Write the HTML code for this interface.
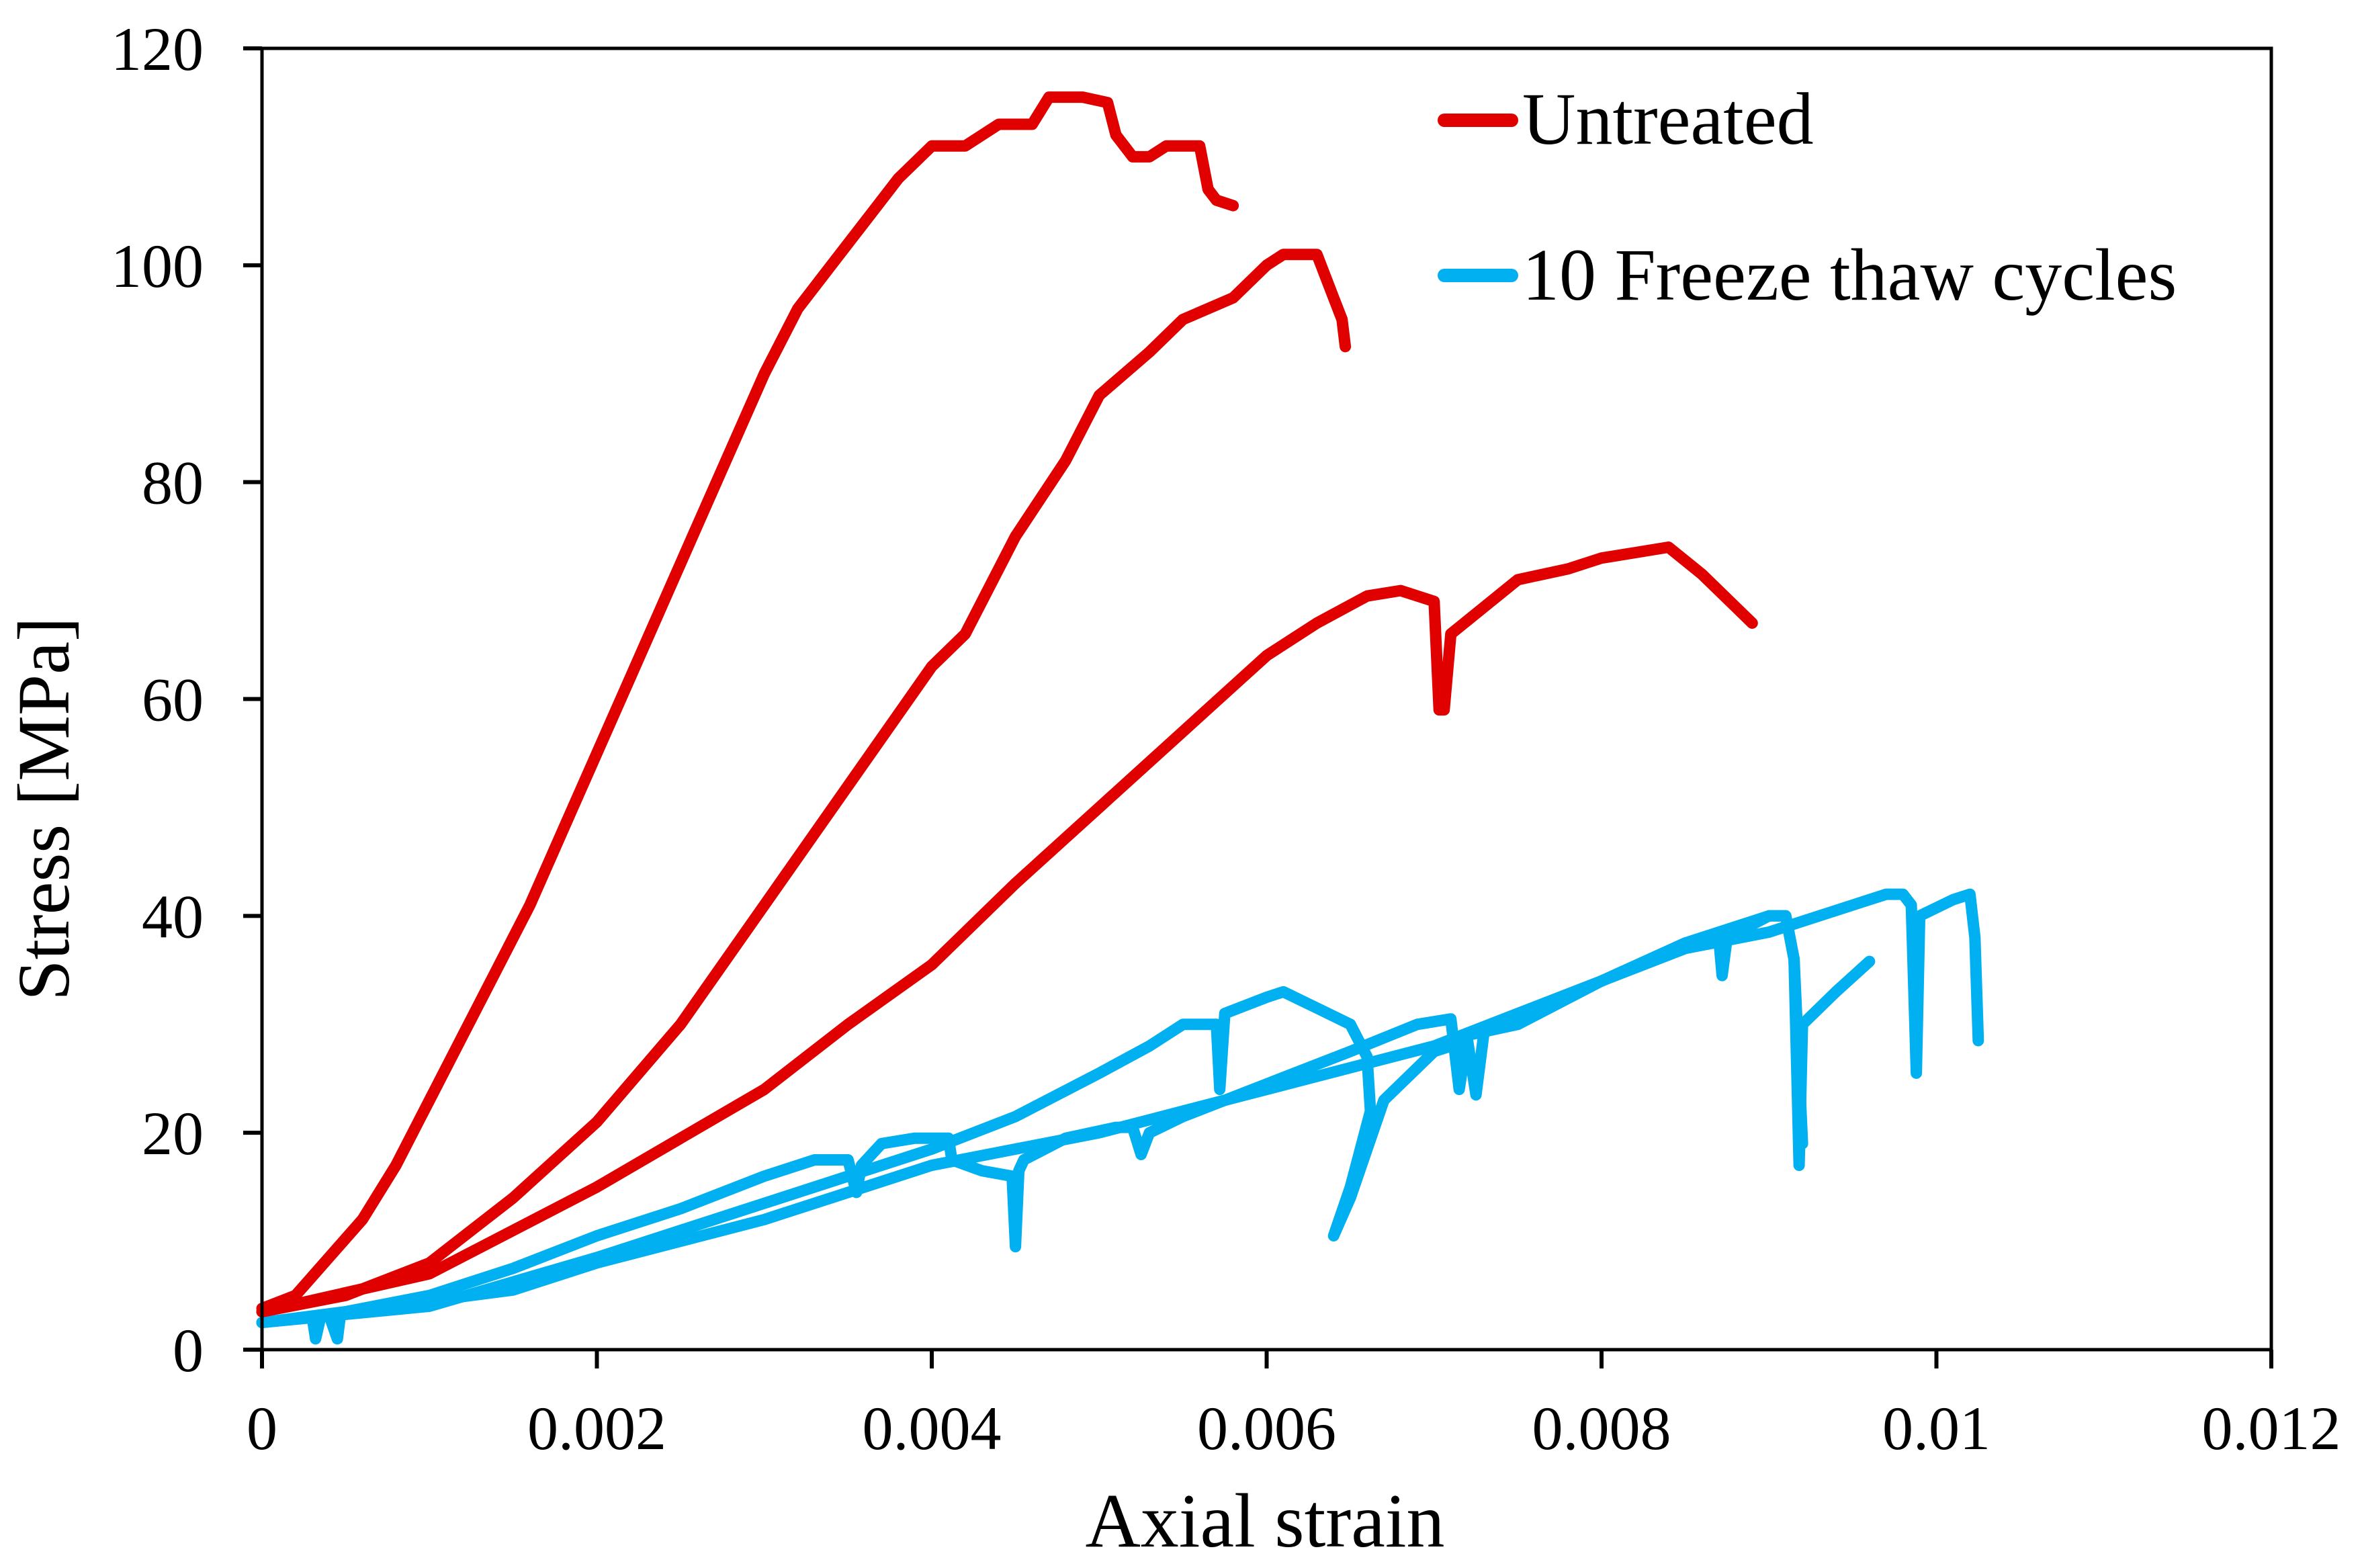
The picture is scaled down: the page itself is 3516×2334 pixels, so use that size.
<!DOCTYPE html>
<html><head><meta charset="utf-8">
<style>
html,body{margin:0;padding:0;background:#fff;}
svg{display:block;}
text{font-family:"Liberation Serif",serif;fill:#000;}
</style></head>
<body>
<svg id="chart" width="3516" height="2334" viewBox="0 0 3516 2334" xmlns="http://www.w3.org/2000/svg">
<rect x="0" y="0" width="3516" height="2334" fill="#fff"/>
<g id="series"></g>
<rect x="390" y="72" width="2991" height="1937" fill="none" stroke="#000" stroke-width="5"/>
<g id="axes"></g>
<text x="1883" y="2302" font-size="114" text-anchor="middle">Axial strain</text>
<text x="0" y="0" font-size="110" text-anchor="middle" transform="translate(102,1204) rotate(-90)">Stress [MPa]</text>
<g>
<line x1="2150" y1="179" x2="2250" y2="179" stroke="#e00000" stroke-width="20" stroke-linecap="round"/>
<text x="2266" y="214" font-size="110">Untreated</text>
<line x1="2150" y1="410" x2="2250" y2="410" stroke="#00b0f0" stroke-width="20" stroke-linecap="round"/>
<text x="2266" y="446" font-size="110">10 Freeze thaw cycles</text>
</g>
</svg>
<script>
const xTicks=[0,0.002,0.004,0.006,0.008,0.01,0.012];
const xTickLabels=["0","0.002","0.004","0.006","0.008","0.01","0.012"];
const yTicks=[0,20,40,60,80,100,120];
const yTickLabels=["0","20","40","60","80","100","120"];

const red1X=[0,0.0002,0.0004,0.0006,0.0008,0.001,0.0012,0.0014,0.0016,0.0018,0.002,0.0022,0.0024,0.0026,0.0028,0.003,0.0032,0.0034,0.0036,0.0038,0.004,0.0042,0.0044,0.0046,0.0047,0.0049,0.00505,0.0051,0.0052,0.0053,0.0054,0.0056,0.00565,0.0057,0.0058];
const red1Y=[3.8,5,8.5,12,17,23,29,35,41,48,55,62,69,76,83,90,96,100,104,108,111,111,113,113,115.5,115.5,115,112,110,110,111,111,107,106,105.5];
const red2X=[0,0.0005,0.001,0.0015,0.002,0.0025,0.003,0.0035,0.004,0.0042,0.0045,0.0048,0.005,0.0053,0.0055,0.0058,0.006,0.0061,0.0063,0.0064,0.00645,0.00647];
const red2Y=[3.5,5,8,14,21,30,41,52,63,66,75,82,88,92,95,97,100,101,101,97,95,92.5];
const red3X=[0,0.001,0.002,0.003,0.0035,0.004,0.0045,0.005,0.0055,0.006,0.0063,0.0066,0.0068,0.0070,0.00703,0.00706,0.0071,0.0075,0.0078,0.008,0.0082,0.0084,0.0086,0.0088,0.0089];
const red3Y=[3.5,7,15,24,30,35.5,43,50,57,64,67,69.5,70,69,59,59,66,71,72,73,73.5,74,71.5,68.5,67];

const blue1X=[0,0.0005,0.001,0.0015,0.002,0.0025,0.003,0.0033,0.0035,0.00355,0.00358,0.0037,0.0039,0.0041,0.00412,0.0043,0.00448,0.0045,0.00452,0.00455,0.0048,0.0051,0.0052,0.00525,0.0053,0.0055,0.006,0.0065,0.0069,0.0071,0.00715,0.0072,0.0075,0.008,0.0085,0.0087,0.00872,0.00875,0.009,0.0091,0.00915,0.00918,0.0092,0.0094,0.0096];
const blue1Y=[2.5,3.5,5,7.5,10.5,13,16,17.5,17.5,14.5,17,19,19.5,19.5,17.5,16.5,16,9.5,16.5,17.5,19.5,20.5,20.5,18,20,21.5,24.5,27.5,30,30.5,24,29,30,34,37.5,38,34.5,38,40,40,36,17,30,33,35.8];
const blue2X=[0,0.001,0.002,0.003,0.004,0.0045,0.005,0.0053,0.0055,0.0056,0.0057,0.00572,0.00575,0.006,0.0061,0.0063,0.0065,0.0066,0.00662,0.0065,0.0064,0.0065,0.0067,0.007,0.0072,0.00725,0.0073,0.0075,0.008,0.0085,0.0088,0.009,0.0091,0.00915,0.0092];
const blue2Y=[2.5,4,8.5,13.5,18.5,21.5,25.5,28,30,30,30,24,31,32.5,33,31.5,30,27,22,15,10.5,14,23,27.5,28.5,23.5,29.5,30.5,34,37.5,39,40,40,36,19];
const blue3X=[0,0.0003,0.00032,0.00035,0.0004,0.00045,0.00047,0.0005,0.001,0.0015,0.002,0.003,0.004,0.005,0.006,0.007,0.0075,0.008,0.0085,0.009,0.0093,0.0095,0.0097,0.0098,0.00985,0.00988,0.0099,0.0101,0.0102,0.01023,0.01025];
const blue3Y=[2.5,3,1,3,3.2,1,3.4,3.5,4.5,5.5,8,12,17,20,24,28,31,34,37,38.5,40,41,42,42,41,25.5,40,41.5,42,38,28.5];

const NS="http://www.w3.org/2000/svg";
const L=390,R=3381,T=72,B=2009;
function sx(v){return L+v/0.012*(R-L);}
function sy(v){return B-v/120*(B-T);}

const axes=document.getElementById('axes');
xTicks.forEach((v,i)=>{
  const t=document.createElementNS(NS,'line');
  t.setAttribute('x1',sx(v));t.setAttribute('x2',sx(v));t.setAttribute('y1',B);t.setAttribute('y2',B+28);
  t.setAttribute('stroke','#000');t.setAttribute('stroke-width','6');
  
  
  axes.appendChild(t);
  const tx=document.createElementNS(NS,'text');
  tx.setAttribute('x',sx(v));tx.setAttribute('y',2157);tx.setAttribute('font-size','92');tx.setAttribute('text-anchor','middle');
  tx.textContent=xTickLabels[i];
  
  
  axes.appendChild(tx);
});
yTicks.forEach((v,i)=>{
  const t=document.createElementNS(NS,'line');
  t.setAttribute('x1',L-28);t.setAttribute('x2',L);t.setAttribute('y1',sy(v));t.setAttribute('y2',sy(v));
  t.setAttribute('stroke','#000');t.setAttribute('stroke-width','6');
  
  
  axes.appendChild(t);
  const tx=document.createElementNS(NS,'text');
  tx.setAttribute('x',303);tx.setAttribute('y',sy(v)+32);tx.setAttribute('font-size','92');tx.setAttribute('text-anchor','end');
  tx.textContent=yTickLabels[i];
  
  
  axes.appendChild(tx);
});

const g=document.getElementById('series');
function draw(xs,ys,color,name){
  const p=document.createElementNS(NS,'path');
  p.setAttribute('d',xs.map((x,i)=>(i?'L':'M')+sx(x).toFixed(1)+' '+sy(ys[i]).toFixed(1)).join(' '));
  p.setAttribute('fill','none');p.setAttribute('stroke',color);p.setAttribute('stroke-width','17');
  p.setAttribute('stroke-linejoin','round');p.setAttribute('stroke-linecap','round');
  
  
  g.appendChild(p);
}
draw(blue1X,blue1Y,'#00b0f0','freeze-thaw-curve-1');
draw(blue2X,blue2Y,'#00b0f0','freeze-thaw-curve-2');
draw(blue3X,blue3Y,'#00b0f0','freeze-thaw-curve-3');
draw(red1X,red1Y,'#e00000','untreated-curve-1');
draw(red2X,red2Y,'#e00000','untreated-curve-2');
draw(red3X,red3Y,'#e00000','untreated-curve-3');
</script>
</body></html>
